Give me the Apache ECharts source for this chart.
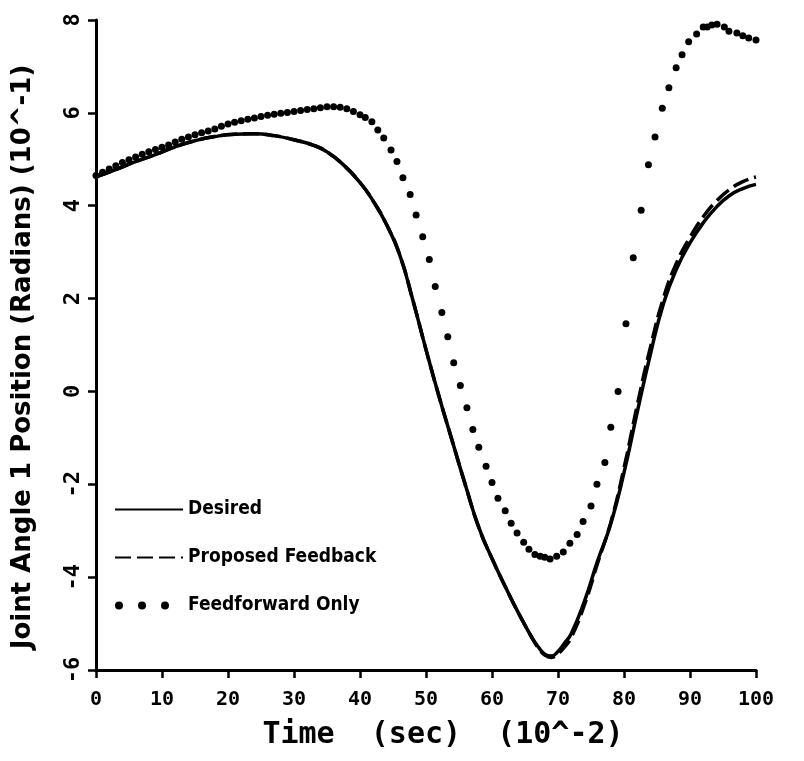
<!DOCTYPE html>
<html>
<head>
    <meta charset="utf-8">
    <title>Joint Angle 1 Position</title>
    <script type="text/javascript" src="https://cdn.jsdelivr.net/npm/echarts@6/dist/echarts.min.js"></script>
    <style>
        html, body { margin: 0; padding: 0; background: #fff; }
    </style>
</head>
<body>
<div id="chart" style="width: 804px; height: 761px;"></div>
<script type="text/javascript">
    // values: [time (10^-2 s), angle (10^-1 rad)]
    var desired = [[0, 4.62], [3, 4.78], [6, 4.95], [9, 5.1], [12, 5.27], [15, 5.4], [18, 5.49], [21, 5.54],
        [24, 5.55], [27, 5.51], [30, 5.42], [33, 5.3], [35, 5.16], [37.5, 4.88], [40, 4.5], [42, 4.1],
        [44, 3.6], [46, 2.95], [48, 1.97], [50, 0.9], [52, -0.12], [54, -1.08], [56, -2.03], [58, -2.93],
        [60, -3.6], [62, -4.2], [64, -4.77], [66, -5.29], [67, -5.5], [68, -5.66], [69, -5.7], [70, -5.6],
        [71, -5.42], [72, -5.22], [74, -4.52], [76, -3.65], [78, -2.85], [80, -1.75], [82, -0.45],
        [84, 0.8], [86, 1.9], [88, 2.65], [90, 3.2], [92, 3.63], [94, 3.97], [96, 4.22], [98, 4.37], [100, 4.46]];

    var proposed = [[0, 4.62], [3, 4.78], [6, 4.95], [9, 5.1], [12, 5.27], [15, 5.4], [18, 5.49], [21, 5.54],
        [24, 5.55], [27, 5.51], [30, 5.42], [33, 5.3], [35, 5.16], [37.5, 4.88], [40, 4.5], [42, 4.1],
        [44, 3.6], [46, 2.95], [48, 1.97], [50, 0.9], [52, -0.12], [54, -1.08], [56, -2.03], [58, -2.93],
        [60, -3.6], [62, -4.2], [64, -4.77], [66, -5.29], [67, -5.52], [68, -5.68], [69, -5.73], [70, -5.65],
        [71, -5.5], [72, -5.3], [74, -4.6], [76, -3.7], [78, -2.82], [80, -1.65], [82, -0.3],
        [84, 0.95], [86, 2.02], [88, 2.78], [90, 3.32], [92, 3.76], [94, 4.1], [96, 4.35], [98, 4.52], [100, 4.62]];

    var feedforward = [[0, 4.65], [1, 4.72], [2, 4.79], [3, 4.86], [4, 4.93], [5, 4.99], [6, 5.05], [7, 5.11],
        [8, 5.16], [9, 5.21], [10, 5.26], [11, 5.31], [12, 5.37], [13, 5.43], [14, 5.48], [15, 5.53],
        [16, 5.57], [17, 5.61], [18, 5.65], [19, 5.71], [20, 5.76], [21, 5.8], [22, 5.83], [23, 5.86],
        [24, 5.89], [25, 5.92], [26, 5.95], [27, 5.97], [28, 5.99], [29, 6.01], [30, 6.03], [31, 6.05],
        [32, 6.07], [33, 6.09], [34, 6.11], [35, 6.13], [36, 6.13], [37, 6.12], [38, 6.09], [39, 6.03],
        [40, 5.96], [40.8, 5.9], [41.8, 5.81], [42.7, 5.63], [43.6, 5.46], [44.7, 5.2], [45.6, 4.95],
        [46.5, 4.6], [47.6, 4.24], [48.5, 3.8], [49.5, 3.33], [50.5, 2.84], [51.4, 2.26], [52.4, 1.7],
        [53.3, 1.18], [54.2, 0.62], [55.2, 0.13], [56.2, -0.35], [57.1, -0.82], [58, -1.2], [59.1, -1.61],
        [60, -1.96], [60.9, -2.3], [62, -2.57], [62.9, -2.84], [63.8, -3.05], [64.8, -3.25], [65.6, -3.4],
        [66.5, -3.51], [67.3, -3.55], [68, -3.57], [68.8, -3.61], [69.8, -3.55], [70.8, -3.46],
        [71.8, -3.27], [72.9, -3.08], [73.8, -2.8], [75, -2.47], [75.9, -2.0], [77.1, -1.53], [78, -0.77],
        [79.1, 0.0], [80.3, 1.46], [81.4, 2.88], [82.6, 3.9], [83.7, 4.88], [84.7, 5.48], [85.8, 6.1],
        [86.8, 6.54], [87.9, 6.97], [88.8, 7.25], [89.8, 7.53], [91, 7.7], [92, 7.85], [92.6, 7.85],
        [93.3, 7.89], [94.1, 7.91], [95.2, 7.85], [95.9, 7.76], [97.1, 7.72], [98, 7.66], [98.9, 7.61],
        [100, 7.57]];

    var seriesNames = ['Desired', 'Proposed Feedback', 'Feedforward Only'];
    var xTicks = {min: 0, max: 100, step: 10};
    var yTicks = {min: -6, max: 8, step: 2};

    var monoFont = '"DejaVu Sans Mono", monospace';
    var sansFont = '"DejaVu Sans", sans-serif';
    // three dots for the legend key, with a trailing move so the box keeps the line keys' width
    var dotsIcon = 'path://M0,4a4,4 0 1,0 8,0a4,4 0 1,0 -8,0M23,4a4,4 0 1,0 8,0a4,4 0 1,0 -8,0' +
        'M46,4a4,4 0 1,0 8,0a4,4 0 1,0 -8,0M68,4';

    var chart = echarts.init(document.getElementById('chart'), null, {renderer: 'canvas'});
    var option = {
        backgroundColor: '#ffffff',
        animation: false,
        grid: {
            left: 96,
            right: 48,
            top: 20,
            bottom: 91,
            outerBoundsMode: 'none'
        },
        legend: {
            orient: 'vertical',
            left: 109,
            top: 495,
            itemWidth: 68,
            itemHeight: 8,
            itemGap: 29,
            data: [
                {name: seriesNames[0], itemStyle: {opacity: 0}},
                {name: seriesNames[1], itemStyle: {opacity: 0}},
                {name: seriesNames[2], icon: dotsIcon}
            ],
            textStyle: {
                color: '#000',
                fontFamily: sansFont,
                fontWeight: 'bold condensed',
                fontSize: 19
            }
        },
        xAxis: {
            type: 'value',
            min: xTicks.min,
            max: xTicks.max,
            interval: xTicks.step,
            name: 'Time  (sec)  (10^-2)',
            nameLocation: 'middle',
            nameGap: 50,
            nameTextStyle: {
                color: '#000',
                fontFamily: monoFont,
                fontWeight: 'bold',
                fontSize: 30,
                padding: [0, 0, 0, 34]
            },
            axisLine: {show: true, onZero: false, lineStyle: {color: '#000', width: 3}},
            axisTick: {show: true, inside: false, length: 8, lineStyle: {color: '#000', width: 2.5}},
            axisLabel: {
                color: '#000',
                margin: 20,
                fontFamily: monoFont,
                fontWeight: 'bold',
                fontSize: 20
            },
            splitLine: {show: false}
        },
        yAxis: {
            type: 'value',
            min: yTicks.min,
            max: yTicks.max,
            interval: yTicks.step,
            name: 'Joint Angle 1 Position (Radians) (10^-1)',
            nameLocation: 'middle',
            nameRotate: 90,
            nameGap: 60,
            nameTextStyle: {
                color: '#000',
                fontFamily: sansFont,
                fontWeight: 'bold',
                fontSize: 26,
                padding: [0, 24, 0, 0]
            },
            axisLine: {show: true, onZero: false, lineStyle: {color: '#000', width: 3}},
            axisTick: {show: true, inside: false, length: 8, lineStyle: {color: '#000', width: 2.5}},
            axisLabel: {
                color: '#000',
                rotate: 90,
                margin: 12,
                fontFamily: monoFont,
                fontWeight: 'bold',
                fontSize: 22
            },
            splitLine: {show: false}
        },
        series: [{
            name: seriesNames[0],
            type: 'line',
            data: desired,
            smooth: true,
            symbol: 'none',
            color: '#000',
            lineStyle: {color: '#000', width: 3.5},
            z: 3
        }, {
            name: seriesNames[1],
            type: 'line',
            data: proposed,
            smooth: true,
            symbol: 'none',
            color: '#000',
            lineStyle: {color: '#000', width: 3.5, type: [16, 6]},
            z: 2
        }, {
            name: seriesNames[2],
            type: 'scatter',
            data: feedforward,
            symbol: 'circle',
            symbolSize: 7,
            color: '#000',
            itemStyle: {color: '#000', opacity: 1},
            z: 4
        }]
    };
    chart.setOption(option);
</script>
</body>
</html>
